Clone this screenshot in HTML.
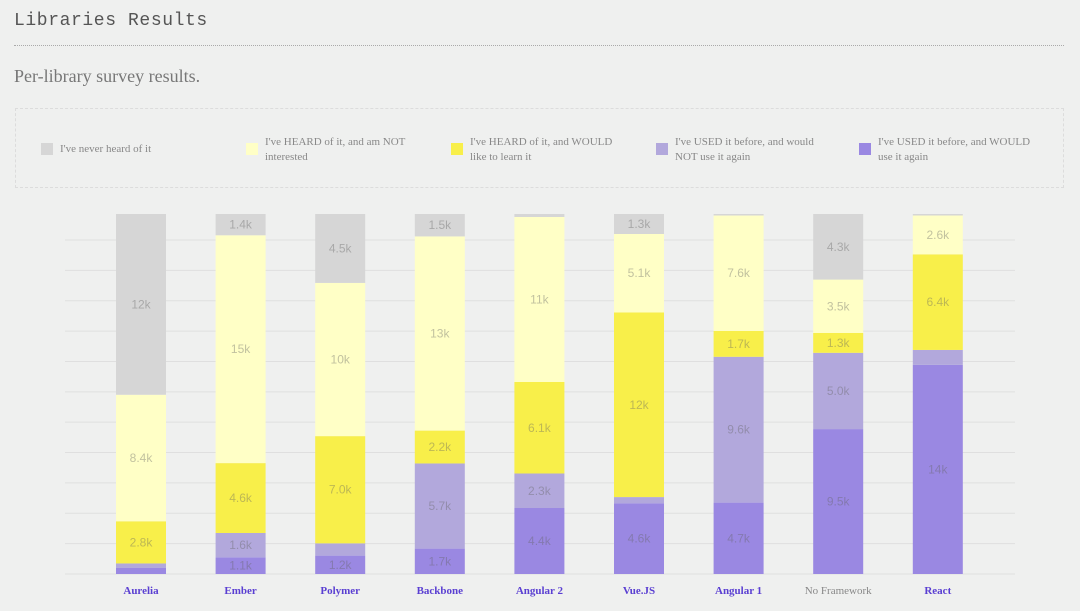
<!DOCTYPE html>
<html><head><meta charset="utf-8"><style>
body{margin:0;width:1080px;height:611px;background:#eff0ef;font-family:"Liberation Serif",serif;position:relative;overflow:hidden}
.abs{position:absolute}
#title{left:14px;top:11px;font-family:"Liberation Mono",monospace;font-size:18px;color:#555;letter-spacing:0.6px}
#rule{left:14px;top:45px;width:1050px;border-top:1px dotted #aaa}
#sub{left:14px;top:66px;font-size:18px;color:#777}
#legend{left:15px;top:108px;width:1049px;height:80px;border:1px dashed #dcdcdc;box-sizing:border-box}
.li{position:absolute;top:26px;font-size:11px;color:#888;line-height:15px;width:175px}
.sw{position:absolute;left:0;top:8px;width:12px;height:12px}
.li span{display:block;margin-left:19px}
</style></head><body>
<div id="title" class="abs">Libraries Results</div>
<div id="rule" class="abs"></div>
<div id="sub" class="abs">Per-library survey results.</div>
<div id="legend" class="abs">
 <div class="li" style="left:25px;top:33px"><div class="sw" style="background:#d6d6d6;top:1px"></div><span>I've never heard of it</span></div>
 <div class="li" style="left:230px"><div class="sw" style="background:#ffffc6"></div><span>I've HEARD of it, and am NOT interested</span></div>
 <div class="li" style="left:435px"><div class="sw" style="background:#f8ef4a"></div><span>I've HEARD of it, and WOULD like to learn it</span></div>
 <div class="li" style="left:640px"><div class="sw" style="background:#b2a8dc"></div><span>I've USED it before, and would NOT use it again</span></div>
 <div class="li" style="left:843px"><div class="sw" style="background:#9a88e2"></div><span>I've USED it before, and WOULD use it again</span></div>
</div>
<svg id="chart" class="abs" style="left:0;top:0" width="1080" height="611"></svg>
<script>
const categories=["Aurelia","Ember","Polymer","Backbone","Angular 2","Vue.JS","Angular 1","No Framework","React"];
const neverHeard=[12,1.4,4.5,1.5,0.2,1.3,0.1,4.3,0.1];
const notInterested=[8.4,15,10,13,11,5.1,7.6,3.5,2.6];
const wouldLearn=[2.8,4.6,7.0,2.2,6.1,12,1.7,1.3,6.4];
const usedNotAgain=[0.3,1.6,0.8,5.7,2.3,0.4,9.6,5.0,1.0];
const usedAgain=[0.4,1.1,1.2,1.7,4.4,4.6,4.7,9.5,14];
const labels={neverHeard:["12k","1.4k","4.5k","1.5k","","1.3k","","4.3k",""],notInterested:["8.4k","15k","10k","13k","11k","5.1k","7.6k","3.5k","2.6k"],wouldLearn:["2.8k","4.6k","7.0k","2.2k","6.1k","12k","1.7k","1.3k","6.4k"],usedNotAgain:["","1.6k","","5.7k","2.3k","","9.6k","5.0k",""],usedAgain:["","1.1k","1.2k","1.7k","4.4k","4.6k","4.7k","9.5k","14k"]};
const series=[["usedAgain",usedAgain,"#9a88e2"],["usedNotAgain",usedNotAgain,"#b2a8dc"],["wouldLearn",wouldLearn,"#f8ef4a"],["notInterested",notInterested,"#ffffc6"],["neverHeard",neverHeard,"#d6d6d6"]];
const svg=document.getElementById('chart');const NS="http://www.w3.org/2000/svg";
const top0=214,bot=574,x0=141,step=99.6,bw=50;
const y=f=>bot-f*(bot-top0);
const xc=i=>x0+i*step;
for(let k=0;k<12;k++){const g=document.createElementNS(NS,'line');const gy=bot-k*(bot-240)/11;
g.setAttribute('x1',65);g.setAttribute('x2',1015);g.setAttribute('y1',gy);g.setAttribute('y2',gy);g.setAttribute('stroke','#dfdfdf');

svg.appendChild(g);}
categories.forEach((c,i)=>{
 const tot=series.reduce((s,d)=>s+d[1][i],0);let acc=0;
 series.forEach(([key,vals,col])=>{
  const a=acc/tot,b=(acc+vals[i])/tot;acc+=vals[i];
  const r=document.createElementNS(NS,'rect');
  r.setAttribute('x',xc(i)-bw/2);r.setAttribute('width',bw);r.setAttribute('y',y(b));r.setAttribute('height',y(a)-y(b));r.setAttribute('fill',col);
  
  svg.appendChild(r);
  const lt=labels[key][i];
  if(lt&&y(a)-y(b)>16){const t=document.createElementNS(NS,'text');t.setAttribute('x',xc(i));t.setAttribute('y',(y(a)+y(b))/2+4);
   t.setAttribute('text-anchor','middle');t.setAttribute('font-size','12');t.setAttribute('fill','rgba(100,100,100,0.4)');t.setAttribute('font-family','Liberation Sans, sans-serif');t.textContent=lt;
   
   svg.appendChild(t);}
 });
 const t=document.createElementNS(NS,'text');t.setAttribute('x',xc(i));t.setAttribute('y',594);t.setAttribute('text-anchor','middle');
 t.setAttribute('font-size','11');t.setAttribute('font-family','Liberation Serif, serif');
 const nf=c==="No Framework";t.setAttribute('fill',nf?'#888':'#5a3fd2');t.setAttribute('font-weight',nf?'normal':'bold');t.textContent=c;
 
 svg.appendChild(t);
});
</script>
</body></html>
